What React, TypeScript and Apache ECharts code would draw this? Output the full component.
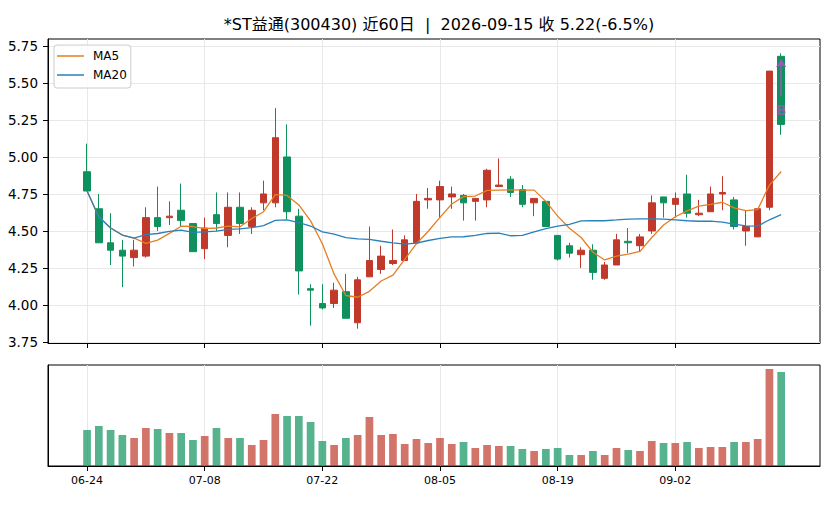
import React, { useEffect, useRef } from 'react';
import * as echarts from 'echarts';

// 交易日（近60日）
const DATES = [
  '06-24', '06-25', '06-26', '06-29', '06-30', '07-01', '07-02', '07-03', '07-06', '07-07',
  '07-08', '07-09', '07-10', '07-13', '07-14', '07-15', '07-16', '07-17', '07-20', '07-21',
  '07-22', '07-23', '07-24', '07-27', '07-28', '07-29', '07-30', '07-31', '08-03', '08-04',
  '08-05', '08-06', '08-07', '08-10', '08-11', '08-12', '08-13', '08-14', '08-17', '08-18',
  '08-19', '08-20', '08-21', '08-24', '08-25', '08-26', '08-27', '08-28', '08-31', '09-01',
  '09-02', '09-03', '09-04', '09-07', '09-08', '09-09', '09-10', '09-11', '09-14', '09-15',
];

const OPEN = [
  4.90, 4.65, 4.42, 4.37, 4.32, 4.33, 4.59, 4.59, 4.64, 4.55,
  4.38, 4.61, 4.47, 4.66, 4.53, 4.69, 4.69, 5.00, 4.60, 4.11,
  4.01, 4.01, 4.09, 3.88, 4.19, 4.24, 4.28, 4.30, 4.42, 4.71,
  4.71, 4.73, 4.74, 4.70, 4.71, 4.80, 4.85, 4.78, 4.69, 4.70,
  4.47, 4.40, 4.34, 4.37, 4.18, 4.27, 4.43, 4.40, 4.50, 4.73,
  4.68, 4.75, 4.61, 4.63, 4.75, 4.71, 4.50, 4.46, 4.66, 5.68,
];
const CLOSE = [
  4.77, 4.42, 4.37, 4.33, 4.37, 4.59, 4.53, 4.60, 4.57, 4.36,
  4.52, 4.55, 4.66, 4.55, 4.64, 4.75, 5.13, 4.63, 4.23, 4.10,
  3.98, 4.10, 3.91, 4.17, 4.30, 4.33, 4.30, 4.44, 4.70, 4.72,
  4.80, 4.75, 4.69, 4.72, 4.91, 4.81, 4.76, 4.68, 4.72, 4.53,
  4.31, 4.35, 4.37, 4.22, 4.27, 4.44, 4.42, 4.46, 4.69, 4.69,
  4.72, 4.62, 4.62, 4.75, 4.76, 4.53, 4.53, 4.65, 5.58, 5.22,
];
const LOW = [
  4.77, 4.42, 4.27, 4.12, 4.26, 4.32, 4.50, 4.54, 4.53, 4.36,
  4.31, 4.50, 4.39, 4.48, 4.48, 4.64, 4.66, 4.58, 4.07, 3.86,
  3.97, 3.98, 3.91, 3.84, 4.19, 4.21, 4.27, 4.30, 4.42, 4.65,
  4.59, 4.65, 4.57, 4.57, 4.66, 4.80, 4.73, 4.66, 4.60, 4.53,
  4.30, 4.32, 4.25, 4.17, 4.17, 4.27, 4.35, 4.36, 4.48, 4.59,
  4.59, 4.59, 4.60, 4.63, 4.64, 4.51, 4.40, 4.46, 4.64, 5.15,
];
const HIGH = [
  5.09, 4.75, 4.62, 4.44, 4.44, 4.66, 4.80, 4.70, 4.82, 4.55,
  4.59, 4.76, 4.76, 4.76, 4.66, 4.84, 5.33, 5.22, 4.65, 4.14,
  4.14, 4.15, 4.21, 4.19, 4.53, 4.40, 4.51, 4.47, 4.75, 4.79,
  4.84, 4.80, 4.75, 4.72, 4.92, 4.99, 4.87, 4.81, 4.72, 4.70,
  4.47, 4.42, 4.39, 4.41, 4.29, 4.48, 4.52, 4.48, 4.74, 4.73,
  4.76, 4.88, 4.71, 4.80, 4.87, 4.73, 4.64, 4.65, 5.58, 5.70,
];
// 成交量（相对值）
const VOLUME = [
  36, 40, 36, 31, 28, 38, 37, 33, 33, 26,
  30, 38, 28, 28, 21, 26, 52, 50, 50, 44,
  25, 21, 28, 31, 49, 31, 32, 22, 27, 23,
  28, 22, 24, 18, 21, 20, 20, 17, 15, 17,
  18, 11, 11, 15, 11, 18, 16, 15, 25, 23,
  23, 24, 18, 19, 19, 24, 24, 27, 97, 94,
];

const DATE_TICKS = [0, 10, 20, 30, 40, 50];
const PRICE_TICKS = [3.75, 4.0, 4.25, 4.5, 4.75, 5.0, 5.25, 5.5, 5.75];

// 买点标记
const SIGNAL_INDEX = 59;
const SIGNAL_LABEL_PRICE = 5.32;
const SIGNAL_ARROW_FROM = 5.41;
const SIGNAL_ARROW_TO = 5.66;

const TITLE = '*ST益通(300430) 近60日  |  2026-09-15 收 5.22(-6.5%)';

const UP = '#c0392b';
const DOWN = '#0f915e';
const MA5_COLOR = '#e67e22';
const MA20_COLOR = '#2980b9';
const SIGNAL_COLOR = '#9b59b6';
const GRID_COLOR = '#e8e8e8';
const FONT = '"DejaVu Sans", "Noto Sans CJK SC", sans-serif';

// 均线（前期不足 n 日时取已有数据平均）
const movingAverage = (values: number[], n: number) =>
  values.map((_, i) => {
    const part = values.slice(Math.max(0, i - n + 1), i + 1);
    return part.reduce((s, v) => s + v, 0) / part.length;
  });

const X_MIN = -3.32;
const X_MAX = 62.3;

export default function App() {
  const chartRef = useRef<HTMLDivElement>(null);

  useEffect(() => {
    if (!chartRef.current) return;
    const chart = echarts.init(chartRef.current, undefined, { renderer: 'svg' });

    const ma5 = movingAverage(CLOSE, 5);
    const ma20 = movingAverage(CLOSE, 20);

    const xAxisBase = {
      type: 'value',
      min: X_MIN,
      max: X_MAX,
      axisLine: { show: true, onZero: false, lineStyle: { color: '#000', width: 1 } },
      axisTick: { show: true, customValues: DATE_TICKS, length: 5, lineStyle: { color: '#000', width: 1 } },
      splitLine: { show: true, lineStyle: { color: GRID_COLOR, width: 1 } },
    };

    chart.setOption({
      animation: false,
      backgroundColor: '#fff',
      title: {
        text: TITLE,
        left: 434,
        top: 11,
        textAlign: 'center',
        textStyle: { fontSize: 16, fontWeight: 'normal', color: '#000', fontFamily: FONT },
      },
      legend: {
        orient: 'vertical',
        left: 54,
        top: 45,
        data: [
          { name: 'MA5', icon: 'rect' },
          { name: 'MA20', icon: 'rect' },
        ],
        itemWidth: 27,
        itemHeight: 1.5,
        itemGap: 5,
        padding: [4, 4, 6, 3],
        backgroundColor: 'rgba(255,255,255,0.8)',
        borderColor: '#cccccc',
        borderWidth: 1,
        borderRadius: 3,
        textStyle: { fontSize: 12, lineHeight: 14, color: '#000', fontFamily: FONT, padding: [0, 0, 0, 4] },
      },
      grid: [
        { left: 48, top: 39, width: 772, height: 304, show: true, borderColor: '#000', borderWidth: 1 },
        { left: 48, top: 365, width: 772, height: 101, show: true, borderColor: '#000', borderWidth: 1 },
      ],
      xAxis: [
        { ...xAxisBase, gridIndex: 0, axisLabel: { show: false } },
        {
          ...xAxisBase,
          gridIndex: 1,
          axisLabel: {
            show: true,
            customValues: DATE_TICKS,
            formatter: (v: number) => DATES[Math.round(v)] ?? '',
            fontSize: 11,
            color: '#000',
            fontFamily: FONT,
            margin: 9,
          },
        },
      ],
      yAxis: [
        {
          type: 'value',
          gridIndex: 0,
          min: 3.743,
          max: 5.797,
          axisLine: { show: true, onZero: false, lineStyle: { color: '#000', width: 1 } },
          axisTick: { show: true, customValues: PRICE_TICKS, length: 5, lineStyle: { color: '#000', width: 1 } },
          axisLabel: {
            show: true,
            customValues: PRICE_TICKS,
            formatter: (v: number) => v.toFixed(2),
            fontSize: 13.5,
            color: '#000',
            fontFamily: FONT,
            margin: 10,
          },
          splitLine: { show: true, lineStyle: { color: GRID_COLOR, width: 1 } },
        },
        {
          type: 'value',
          gridIndex: 1,
          min: 0,
          max: 101,
          axisLine: { show: true, onZero: false, lineStyle: { color: '#000', width: 1 } },
          axisTick: { show: false },
          axisLabel: { show: false },
          splitLine: { show: false },
        },
      ],
      series: [
        {
          name: 'K',
          type: 'candlestick',
          xAxisIndex: 0,
          yAxisIndex: 0,
          barWidth: 7,
          data: DATES.map((_, i) => [i, OPEN[i], CLOSE[i], LOW[i], HIGH[i]]),
          itemStyle: { color: UP, color0: DOWN, borderColor: UP, borderColor0: DOWN, borderWidth: 1 },
          markLine: {
            silent: true,
            symbol: ['none', 'arrow'],
            symbolSize: 8,
            label: { show: false },
            lineStyle: { color: SIGNAL_COLOR, width: 1.5, type: 'solid' },
            data: [[{ coord: [SIGNAL_INDEX, SIGNAL_ARROW_FROM] }, { coord: [SIGNAL_INDEX, SIGNAL_ARROW_TO] }]],
          },
          markPoint: {
            silent: true,
            symbol: 'circle',
            symbolSize: 1,
            itemStyle: { color: 'transparent' },
            label: {
              show: true,
              position: 'inside',
              formatter: 'B',
              color: 'rgba(155,89,182,0.8)',
              fontSize: 14,
              fontWeight: 'bold',
              fontFamily: FONT,
            },
            data: [{ coord: [SIGNAL_INDEX, SIGNAL_LABEL_PRICE] }],
          },
        },
        {
          name: 'MA5',
          type: 'line',
          xAxisIndex: 0,
          yAxisIndex: 0,
          symbol: 'none',
          color: MA5_COLOR,
          lineStyle: { color: MA5_COLOR, width: 1.3 },
          data: ma5.map((v, i) => [i, v]),
          z: 3,
        },
        {
          name: 'MA20',
          type: 'line',
          xAxisIndex: 0,
          yAxisIndex: 0,
          symbol: 'none',
          color: MA20_COLOR,
          lineStyle: { color: MA20_COLOR, width: 1.3 },
          data: ma20.map((v, i) => [i, v]),
          z: 3,
        },
        {
          name: '成交量',
          type: 'bar',
          xAxisIndex: 1,
          yAxisIndex: 1,
          barWidth: 7.7,
          data: VOLUME.map((v, i) => ({
            value: [i, v],
            itemStyle: { color: CLOSE[i] >= OPEN[i] ? UP : DOWN, opacity: 0.7 },
          })),
        },
      ],
    });

    return () => chart.dispose();
  }, []);

  return (
    <div
      ref={chartRef}
      style={{ position: 'absolute', left: 0, top: 0, width: 836, height: 506, background: '#fff' }}
    />
  );
}
